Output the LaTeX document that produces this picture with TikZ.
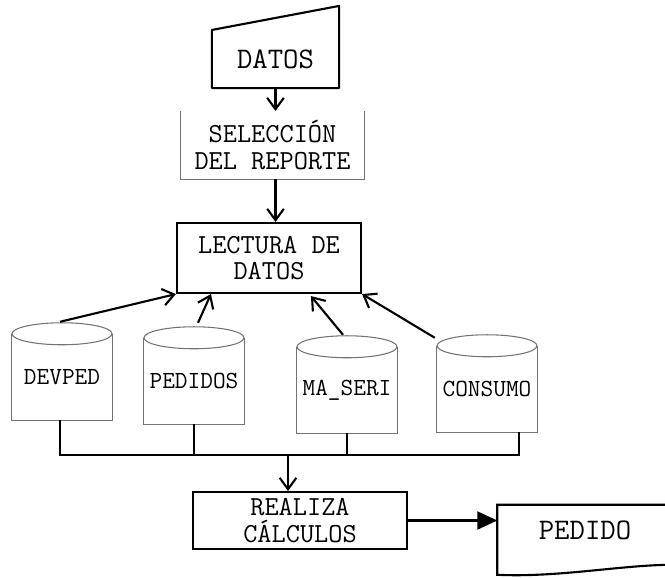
\documentclass[tikz,border=0pt]{standalone}
\usepackage{fontspec}
\usetikzlibrary{arrows.meta,calc,positioning}
\tikzset{
  proc/.style={rectangle,draw,line width=1.8pt,align=center,inner sep=0pt,
    font=\ttfamily\fontsize{23.5}{22.5}\selectfont},
  % scanned-looking thin outlines (selection box, data stores)
  faint/.style={draw=black!55,line width=0.9pt},
  store/.style={rectangle,draw=none,minimum width=3cm,minimum height=2.58cm,
    inner sep=0pt,font=\ttfamily\fontsize{21}{22}\selectfont},
  arr/.style={-{Straight Barb[length=3.4mm,width=5mm]},line width=1.8pt},
  bus/.style={line width=2.2pt}
}

\begin{document}
\begin{tikzpicture}[x=0.03cm,y=-0.03cm]
\useasboundingbox (0,0) rectangle (665,577);
% ---------------- input and selection ----------------
\node[proc,draw=none,minimum width=3.75cm,minimum height=1.68cm,
  font=\ttfamily\fontsize{25.5}{28}\selectfont] (datos) at (275.5,59) {DATOS};
\draw[line width=1.8pt,line join=round] (datos.south west) -- (datos.north west)
  -- ($(datos.north east)+(0,-24)$) -- (datos.south east) -- cycle;
\node[proc,draw=none,minimum width=5.43cm,minimum height=1.98cm] (sel)
  at (272.5,145) {SELECCIÓN\\DEL REPORTE};
\draw[faint] (sel.north west) -- (sel.south west) -- (sel.south east) -- (sel.north east);
\draw[arr] (datos.south) -- (datos.south |- sel.north);
\node[proc,minimum width=5.52cm,minimum height=2.1cm] (lect) at (269,258)
  {LECTURA DE\\DATOS};
\draw[arr] (sel.south -| datos.south) -- (datos.south |- lect.north);
% ---------------- data stores ----------------
\foreach \n/\t/\x/\y in {devped/DEVPED/62/377,pedidos/PEDIDOS/194/381,
    maseri/MA\_SERI/347/390,consumo/CONSUMO/487/389}{
  \node[store] (\n) at (\x,\y) {\t};
  \draw[faint] (\n.north west) -- (\n.south west) -- (\n.south east) -- (\n.north east);
  \draw[faint] (\n.north) ellipse [x radius=1.5cm,y radius=0.33cm];
}
\draw[arr] ($(devped.north)+(-2,-12)$) -- (lect.south west);
\draw[arr] ($(pedidos.north)+(4,-15)$) -- ($(lect.south west)+(35,0)$);
\draw[arr] ($(maseri.north)+(-4,-12)$) -- ($(lect.south west)+(135,2)$);
\draw[arr] ($(consumo.north west)+(-2,-8)$) -- (lect.south east);
% ---------------- calculation and output ----------------
\coordinate (busL) at (60,455);
\coordinate (busR) at (519,455);
\coordinate (join) at (288,455);
\draw[bus] (devped.south -| busL) -- (busL) -- (busR) -- (busR |- consumo.south);
\draw[bus] (pedidos.south) -- (pedidos.south |- busL);
\draw[bus] (maseri.south) -- (maseri.south |- busL);
\node[proc,minimum width=6.42cm,minimum height=1.71cm] (realiza) at (300,520.5)
  {REALIZA\\CÁLCULOS};
\draw[arr] (join) -- (join |- realiza.north);
\node[minimum width=5.25cm,minimum height=1.5cm,inner sep=0pt,
  font=\ttfamily\fontsize{25.5}{28}\selectfont] (pedido) at (585,530) {PEDIDO};
\draw[line width=1.8pt] (pedido.north east) -- (pedido.north west) -- ++(0,70)
  .. controls +(60,3) and +(-50,0) .. ($(pedido.north east)+(0,60)$);
\draw[line width=1.8pt,-{Triangle[length=6mm,width=5.4mm]}]
  (realiza.east) -- (realiza.east -| pedido.west);
\end{tikzpicture}
\end{document}
